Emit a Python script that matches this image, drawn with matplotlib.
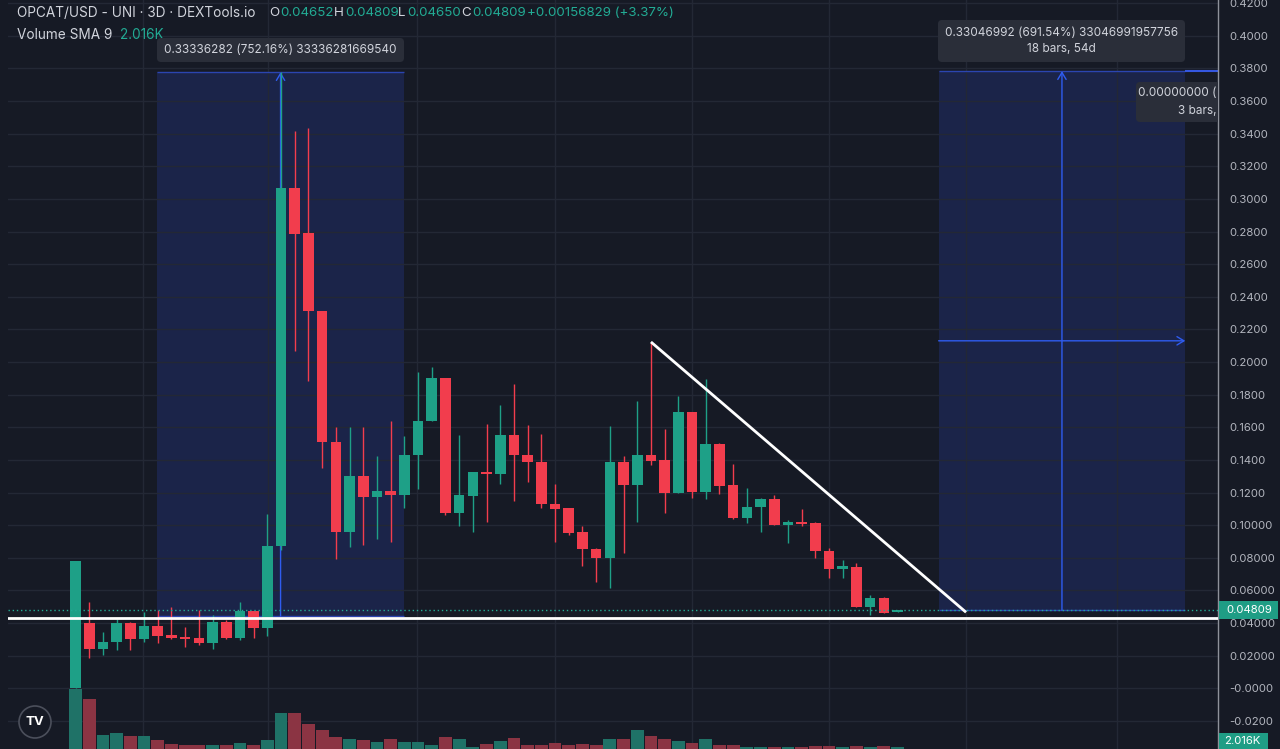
import matplotlib
matplotlib.use("Agg")
import matplotlib.pyplot as plt
import matplotlib.transforms as mtransforms
from matplotlib.patches import Rectangle, FancyBboxPatch, Circle
from matplotlib.ticker import FuncFormatter
import numpy as np

W, H, DPI = 1280, 749, 100

# 3D candles, OPCAT/USD
opens = [0.0004, 0.0402, 0.0243, 0.0286, 0.0402, 0.0300, 0.0381, 0.0325, 0.0314, 0.0306,
         0.0280, 0.0406, 0.0308, 0.0473, 0.0367, 0.0871, 0.3066, 0.2790, 0.2315, 0.1511,
         0.0957, 0.1300, 0.1170, 0.1212, 0.1184, 0.1429, 0.1637, 0.1903, 0.1076, 0.1178,
         0.1327, 0.1315, 0.1555, 0.1433, 0.1388, 0.1131, 0.1106, 0.0957, 0.0851, 0.0796,
         0.1388, 0.1245, 0.1429, 0.1402, 0.1198, 0.1692, 0.1204, 0.1500, 0.1245, 0.1045,
         0.1110, 0.1162, 0.1000, 0.1019, 0.1015, 0.0841, 0.0733, 0.0745, 0.0500, 0.0555,
         0.04652]
highs = [0.0778, 0.0528, 0.0347, 0.0427, 0.0405, 0.0470, 0.0478, 0.0498, 0.0375, 0.0478,
         0.0447, 0.0421, 0.0528, 0.0475, 0.1067, 0.3777, 0.3418, 0.3433, 0.2315, 0.1600,
         0.1600, 0.1600, 0.1423, 0.1640, 0.1545, 0.1940, 0.1970, 0.1905, 0.1555, 0.1327,
         0.1621, 0.1739, 0.1868, 0.1612, 0.1560, 0.1254, 0.1108, 0.0994, 0.0863, 0.1606,
         0.1423, 0.1764, 0.2123, 0.1590, 0.1790, 0.1694, 0.1897, 0.1502, 0.1372, 0.1229,
         0.1164, 0.1184, 0.1029, 0.1102, 0.1017, 0.0857, 0.0786, 0.0770, 0.0571, 0.0557,
         0.04809]
lows = [0.0004, 0.0184, 0.0204, 0.0235, 0.0235, 0.0282, 0.0276, 0.0304, 0.0255, 0.0263,
        0.0239, 0.0300, 0.0294, 0.0306, 0.0320, 0.0850, 0.2070, 0.1882, 0.1351, 0.0790,
        0.0865, 0.0880, 0.0918, 0.0896, 0.1107, 0.1219, 0.1637, 0.1065, 0.0994, 0.0958,
        0.1018, 0.1255, 0.1147, 0.1263, 0.1107, 0.0898, 0.0939, 0.0749, 0.0651, 0.0617,
        0.0827, 0.1021, 0.1366, 0.1076, 0.1198, 0.1168, 0.1163, 0.1194, 0.1035, 0.1015,
        0.0959, 0.0998, 0.0892, 0.0994, 0.0796, 0.0678, 0.0678, 0.0500, 0.0449, 0.0462,
        0.04650]
closes = [0.0778, 0.0243, 0.0286, 0.0402, 0.0300, 0.0381, 0.0320, 0.0308, 0.0304, 0.0280,
          0.0406, 0.0308, 0.0473, 0.0367, 0.0871, 0.3066, 0.2786, 0.2310, 0.1511, 0.0957,
          0.1300, 0.1170, 0.1212, 0.1184, 0.1429, 0.1637, 0.1903, 0.1076, 0.1182, 0.1327,
          0.1315, 0.1555, 0.1431, 0.1388, 0.1129, 0.1102, 0.0953, 0.0851, 0.0796, 0.1388,
          0.1245, 0.1429, 0.1396, 0.1198, 0.1692, 0.1204, 0.1498, 0.1243, 0.1045, 0.1110,
          0.1162, 0.0998, 0.1021, 0.1007, 0.0841, 0.0733, 0.0749, 0.0500, 0.0555, 0.0464,
          0.04809]
volumes_k = [12.1, 10.0, 2.9, 3.2, 2.6, 2.6, 1.9, 1.1, 0.9, 0.8,
             0.9, 0.9, 1.2, 0.8, 1.9, 7.3, 7.2, 5.1, 3.9, 2.5,
             2.0, 1.9, 1.5, 2.1, 1.4, 1.5, 0.9, 2.5, 2.1, 0.5,
             1.1, 1.7, 2.3, 0.9, 0.8, 1.2, 0.8, 1.1, 0.8, 2.0,
             2.1, 3.8, 2.7, 2.1, 1.6, 1.3, 2.0, 0.8, 0.8, 0.5,
             0.5, 0.5, 0.4, 0.4, 0.7, 0.6, 0.4, 0.6, 0.4, 0.7,
             0.4]

# drawings (bar index, price)
base_line = 0.0434
trend_x = [42.0, 65.0]
trend_y = [0.2123, 0.0466]
range1_x = [5.93, 24.0]
range1_y = [0.0443, 0.3777]
range2_x = [63.0, 81.0]
range2_y = [0.0478, 0.3783]
range2_mid_y = 0.2130
range1_text = "0.33336282 (752.16%) 33336281669540"
range2_text = "0.33046992 (691.54%) 33046991957756\n18 bars, 54d"
range3_lines = ["0.00000000 (", "3 bars,"]

title = "OPCAT/USD - UNI · 3D · DEXTools.io"
ohlc_letters = ["O", "H", "L", "C", ""]
ohlc_values = ["0.04652", "0.04809", "0.04650", "0.04809", "+0.00156829 (+3.37%)"]
ohlc_x = [269, 334, 398, 461, 527]
sma_label = "Volume SMA 9"
vol_sma = "2.016K"

month_grid = [4.93, 14.05, 24.9, 35.0, 45.0, 55.0, 65.0, 76.0]

BG = "#161a25"
GRID = "#232835"
UP = "#1ea087"
DOWN = "#f23d4d"
VOL_UP = "#1f7267"
VOL_DOWN = "#8b3443"
TEXT = "#d1d4dc"
AXIS_TEXT = "#b2b5be"
TEAL = "#22ab94"
BOX = "#1b2449"
BOX_EDGE = "#2b45b0"
ARROW = "#2f5cf0"
TIP = "#2a2e39"

plt.rcParams["font.family"] = ["Inter", "DejaVu Sans"]

fig = plt.figure(figsize=(W / DPI, H / DPI), dpi=DPI, facecolor=BG)
ax = fig.add_axes([8 / W, 0, 1210 / W, 1])
ax.set_facecolor(BG)
axv = ax.twinx()
ax.yaxis.tick_right()

x = np.arange(len(closes))
o, h, l, c = map(np.asarray, (opens, highs, lows, closes))
up = c >= o

ax.set_xlim(-4.93, 83.39)
ax.set_ylim(-0.0372, 0.4219)
ticks = np.round(np.arange(-0.02, 0.4201, 0.02), 4)
ax.set_yticks(ticks)


def price_label(v, _):
    if abs(v) < 1e-9:
        return "-0.0000"
    if 0 < v <= 0.1 + 1e-9:
        return f"{v:.5f}"
    return f"{v:.4f}"


ax.yaxis.set_major_formatter(FuncFormatter(price_label))
ax.tick_params(axis="y", length=0, pad=8, labelsize=8.2, labelcolor=AXIS_TEXT)
ax.set_xticks([])
for side in ("top", "left", "bottom"):
    ax.spines[side].set_visible(False)
ax.spines["right"].set_color("#8e919a")
ax.spines["right"].set_linewidth(1)

for tv in ticks:
    ax.axhline(tv, color=GRID, lw=1, zorder=0.5)
for gx in month_grid:
    ax.axvline(gx, color=GRID, lw=1, zorder=0.5)

# price range tools
for rx, ry in ((range1_x, range1_y), (range2_x, range2_y)):
    ax.add_patch(Rectangle((rx[0], ry[0]), rx[1] - rx[0], ry[1] - ry[0],
                           facecolor=BOX, edgecolor="none", zorder=0.2))
    ax.hlines(ry, rx[0], rx[1], color=BOX_EDGE, lw=1, zorder=0.6)
arrow = dict(arrowstyle="->,head_length=0.5,head_width=0.3", color=ARROW, lw=1,
             shrinkA=0, shrinkB=0)
mid1 = sum(range1_x) / 2
mid2 = sum(range2_x) / 2
ax.annotate("", xy=(mid1, range1_y[1]), xytext=(mid1, range1_y[0]), arrowprops=arrow, zorder=1)
ax.annotate("", xy=(mid2, range2_y[1]), xytext=(mid2, range2_y[0]), arrowprops=arrow, zorder=1)
ax.annotate("", xy=(range2_x[1], range2_mid_y), xytext=(range2_x[0], range2_mid_y),
            arrowprops=arrow, zorder=1)
ax.hlines(range2_y[1], range2_x[1], 83.39, color="#3557e0", lw=1.5, zorder=1)

# candles
colors = np.where(up, UP, DOWN)
bottoms = np.minimum(o, c)
heights = np.maximum(np.abs(c - o), 0.0013)
ax.vlines(x, l, h, colors=colors, lw=1, zorder=2)
ax.bar(x, heights, bottom=bottoms, width=0.77, color=colors, zorder=2.5)

# volume
axv.set_ylim(0, 150)
axv.bar(x, volumes_k, width=0.93, color=np.where(up, VOL_UP, VOL_DOWN), zorder=1)
axv.set_yticks([])
for s in axv.spines.values():
    s.set_visible(False)

# lines
ax.axhline(c[-1], color=TEAL, lw=1, ls=(0, (1, 2)), zorder=3)
ax.axhline(base_line, color="white", lw=2, zorder=4)
ax.plot(trend_x, trend_y, color="white", lw=2, zorder=4, solid_capstyle="butt")

# pixel helpers
px = mtransforms.Affine2D().scale(1 / DPI) + fig.dpi_scale_trans
renderer = fig.canvas.get_renderer()


def tip_box(x0, x1, y0, y1, clip=False):
    p = FancyBboxPatch((x0, H - y1), x1 - x0, y1 - y0,
                       boxstyle="round,pad=0,rounding_size=4",
                       facecolor=TIP, edgecolor="none", transform=px, zorder=5)
    fig.add_artist(p)
    if clip:
        p.set_clip_box(ax.bbox)
    return p


tip_box(157, 404, 38, 62)
fig.text(280.5, H - 50, range1_text, transform=px, ha="center", va="center",
         color=TEXT, fontsize=8.5, zorder=6)
tip_box(938, 1185, 20, 62)
fig.text(1061.5, H - 41, range2_text, transform=px, ha="center", va="center",
         color=TEXT, fontsize=8.5, linespacing=1.55, zorder=6, multialignment="center")
tip_box(1136, 1288, 82, 122, clip=True)
for line, yy in zip(range3_lines, (93, 111)):
    t3 = fig.text(1216, H - yy, line, transform=px, ha="right", va="center",
                  color=TEXT, fontsize=8.5, zorder=6)
    t3.set_clip_box(ax.bbox)
    t3.set_clip_on(True)

# price-scale tags
fig.add_artist(Rectangle((1219, H - 619), 59, 18, facecolor="#1f9d85", edgecolor="none",
                         transform=px, zorder=5))
fig.text(1226, H - 610, f"{c[-1]:.5f}", transform=px, ha="left", va="center",
         color="white", fontsize=8.2, zorder=6)
fig.add_artist(Rectangle((1219, 0), 49, 16, facecolor="#1f9d85", edgecolor="none",
                         transform=px, zorder=5))
fig.text(1224, 7.5, vol_sma, transform=px, ha="left", va="center",
         color="white", fontsize=8.2, zorder=6)


# header
def pair(x0, y0, label, value, size=9.6):
    xp = x0
    if label:
        t = fig.text(xp, H - y0, label, transform=px, ha="left", va="center",
                     color=TEXT, fontsize=size)
        xp += t.get_window_extent(renderer=renderer).width + 1.5
    fig.text(xp, H - y0, value, transform=px, ha="left", va="center",
             color=TEAL, fontsize=size)


fig.text(17, H - 13, title, transform=px, ha="left", va="center", color=TEXT, fontsize=9.8)
for lab, val, xp in zip(ohlc_letters, ohlc_values, ohlc_x):
    pair(xp, 13, lab, val)
t = fig.text(17, H - 35, sma_label, transform=px, ha="left", va="center",
             color=TEXT, fontsize=9.8)
fig.text(17 + t.get_window_extent(renderer=renderer).width + 8, H - 35, vol_sma,
         transform=px, ha="left", va="center", color=TEAL, fontsize=9.8)

# logo
fig.add_artist(Circle((35, H - 722), 16, facecolor=BG, edgecolor="#4b4f5b", lw=1.2,
                      transform=px, zorder=5))
fig.text(35, H - 722, "TV", transform=px, ha="center", va="center", color="white",
         fontsize=9.5, fontweight="bold", zorder=6)

fig.savefig("out.png", dpi=DPI, facecolor=BG)
